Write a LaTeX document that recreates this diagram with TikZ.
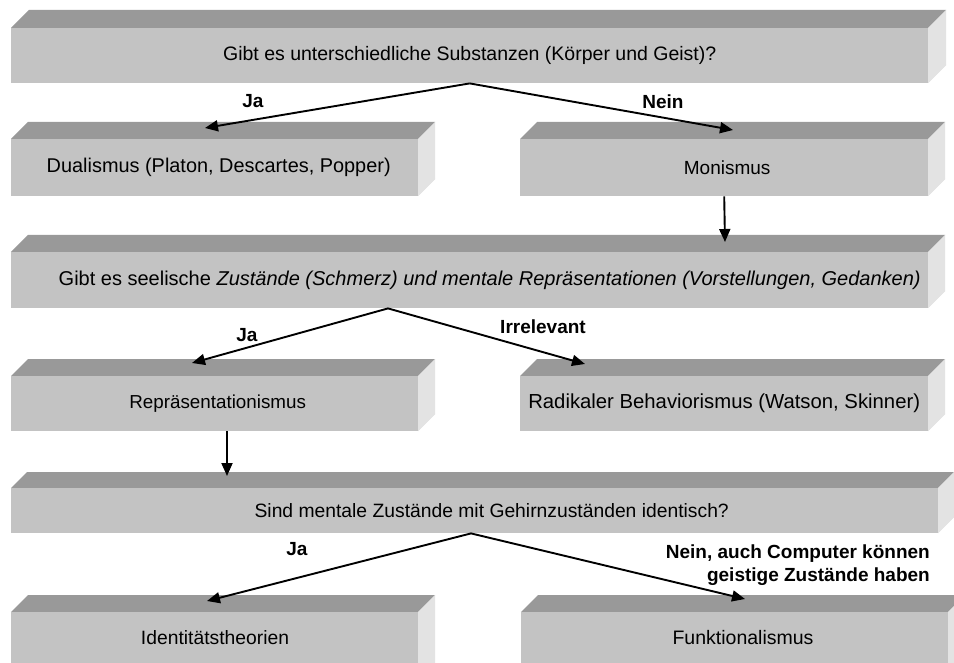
\documentclass[tikz,border=0pt]{standalone}
\usepackage{fontspec}
\setmainfont{Liberation Sans}
\usetikzlibrary{arrows.meta,calc}
\definecolor{topc}{HTML}{999999}
\definecolor{frontc}{HTML}{C3C3C3}
\definecolor{sidec}{HTML}{E3E3E3}
\tikzset{
  lbl/.style={font=\fontsize{19}{23}\selectfont\bfseries, text=black, inner sep=0pt},
  arr/.style={draw=black, line width=1.9pt, -{Triangle[length=13pt,width=11pt]}},
}
% name, x1, y1 (front top), x2, y2 (front bottom), depth, font size, text x-offset, text
\newcommand\cuboid[9]{%
  \fill[topc] (#2,#3) -- ({#2+#6},{#3-#6}) -- ({#4+#6},{#3-#6}) -- (#4,#3) -- cycle;
  \fill[sidec] (#4,#3) -- ({#4+#6},{#5-#6}) -- (#4,#5) -- cycle;
  \fill[sidec] (#4,#3) -- ({#4+#6},{#3-#6}) -- ({#4+#6},{#5-#6}) -- (#4,#5) -- cycle;
  \node[fill=frontc, inner sep=0pt, anchor=north west,
        minimum width={(#4-#2)*1pt}, minimum height={(#5-#3)*1pt}] (#1) at (#2,#3) {};
  \node[font=\fontsize{#7}{#7}\selectfont, text=black, inner sep=0pt] (#1t) at ($(#1.center)+(#8,0)$) {#9};
}
\begin{document}
\begin{tikzpicture}[x=1pt,y=-1pt]
\useasboundingbox (0,0) rectangle (954,663);
\clip (0,0) rectangle (954,663);
\fill[white] (0,0) rectangle (954,663);

\cuboid{q1}{11}{28}{928}{83}{18}{19.5}{0}{Gibt es unterschiedliche Substanzen (Körper und Geist)?}
\cuboid{dual}{11}{139}{418}{196}{17}{19.9}{4}{Dualismus (Platon, Descartes, Popper)}
\cuboid{mon}{520}{139}{928}{196}{17}{19}{3}{Monismus}
\cuboid{q2}{11}{252}{928}{308}{17}{20}{20}{Gibt es seelische \textit{Zustände (Schmerz) und mentale Repräsentationen (Vorstellungen, Gedanken)}}
\cuboid{rep}{11}{376}{418}{431}{17}{18.8}{3}{Repräsentationismus}
\cuboid{beh}{520}{376}{928}{431}{17}{20.3}{0}{Radikaler Behaviorismus (Watson, Skinner)}
\cuboid{q3}{11}{488}{938}{533}{16}{19.3}{17}{Sind mentale Zustände mit Gehirnzuständen identisch?}
\coordinate (c6) at (0,637);
\cuboid{ident}{11}{612}{418}{690}{17}{19.3}{0}{}
\cuboid{funk}{521}{612}{948}{690}{17}{19.5}{0}{}
\node[font=\fontsize{19.3}{19.3}\selectfont, inner sep=0pt] (identtxt) at (215,638) {Identitätstheorien};
\node[font=\fontsize{19.5}{19.5}\selectfont, inner sep=0pt] (funktxt) at (743,638) {Funktionalismus};

% arrow targets
\coordinate (tdual) at (205,128);
\coordinate (tmon) at (733,130);
\coordinate (tq2) at (725,242);
\coordinate (trep) at (192,363);
\coordinate (tbeh) at (585,364);
\coordinate (tq3) at (227,476);
\coordinate (tident) at (207,601);
\coordinate (tfunk) at (745,599);
\coordinate (apx2) at ($(q2.south west)+(377,0)$);
\coordinate (apx3) at ($(q3.south west)+(460,0)$);
\coordinate (repbot) at ($(rep.south west)+(216,0)$);

\draw[arr] (q1.south) -- (tdual);
\draw[arr] (q1.south) -- (tmon);
\draw[arr] (mon.south) -- (tq2);
\draw[arr] (apx2) -- (trep);
\draw[arr] (apx2) -- (tbeh);
\draw[arr] (repbot) -- (tq3);
\draw[arr] (apx3) -- (tident);
\draw[arr] (apx3) -- (tfunk);

\node[lbl] (l1) at (253,101) {Ja};
\node[lbl] (l2) at (663,102) {Nein};
\node[lbl] (l3) at (247,335) {Ja};
\node[lbl] (l4) at (543,327) {Irrelevant};
\node[lbl] (l5) at (297,549) {Ja};
\node[lbl, align=right, anchor=east] (l6) at (930,565) {Nein, auch Computer können\\geistige Zustände haben};
\end{tikzpicture}
\end{document}
